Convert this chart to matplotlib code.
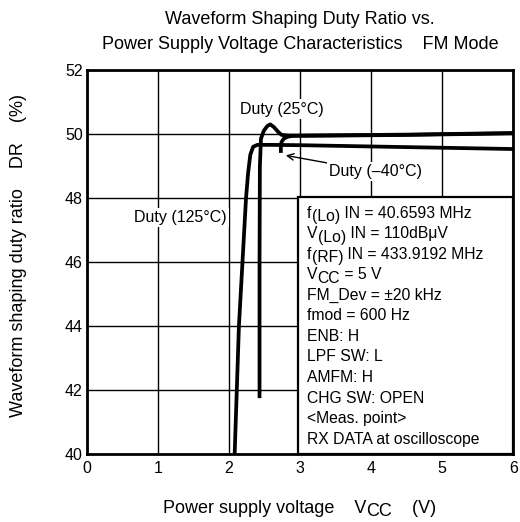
import numpy as np
import matplotlib.pyplot as plt
from matplotlib.patches import Rectangle

plt.rcParams['font.family'] = ['Liberation Sans', 'DejaVu Sans']

# duty ratio curves, V_CC (V) vs DR (%)
vcc_125 = [2.08, 2.14, 2.19, 2.24, 2.27, 2.30, 2.34, 2.40, 2.6, 3.0, 4.0, 5.0, 6.0]
dr_125 = [40.0, 44.0, 46.0, 48.0, 48.8, 49.35, 49.6, 49.66, 49.66, 49.65, 49.61, 49.57, 49.53]

vcc_25 = [2.43, 2.43, 2.435, 2.45, 2.49, 2.54, 2.58, 2.63, 2.69, 2.74, 2.85, 3.5, 4.5, 6.0]
dr_25 = [41.75, 46.0, 49.0, 49.85, 50.1, 50.25, 50.3, 50.22, 50.07, 49.97, 49.95, 49.96, 49.98, 50.03]

vcc_m40 = [2.73, 2.73, 2.74, 2.77, 2.82, 2.89, 3.5, 4.5, 6.0]
dr_m40 = [49.41, 49.62, 49.75, 49.85, 49.91, 49.94, 49.95, 49.97, 50.02]

# (text, is_subscript) pieces for each line of the conditions box
conditions = [
    [('f', False), ('(Lo)', True), (' IN = 40.6593 MHz', False)],
    [('V', False), ('(Lo)', True), (' IN = 110dB\u03bcV', False)],
    [('f', False), ('(RF)', True), (' IN = 433.9192 MHz', False)],
    [('V', False), ('CC', True), (' = 5 V', False)],
    [('FM_Dev = \u00b120 kHz', False)],
    [('fmod = 600 Hz', False)],
    [('ENB: H', False)],
    [('LPF SW: L', False)],
    [('AMFM: H', False)],
    [('CHG SW: OPEN', False)],
    [('<Meas. point>', False)],
    [('RX DATA at oscilloscope', False)],
]


def put_parts(ax, x, y, parts, transform, size, sub_drop=2.5):
    """Writes a line made of pieces, lowering the subscript pieces."""
    first = ax.text(x, y, parts[0][0], transform=transform, fontsize=size,
                    ha='left', va='center', zorder=4)
    prev, prev_dy = first, 0
    for s, sub in parts[1:]:
        dy = -sub_drop if sub else 0
        prev = ax.annotate(s, xy=(1, 0), xycoords=prev, xytext=(0, dy - prev_dy),
                           textcoords='offset points', fontsize=size,
                           ha='left', va='bottom', zorder=4)
        prev_dy = dy
    return first


fig = plt.figure(figsize=(5.2, 5.22), dpi=100)
ax = fig.add_axes([0.167, 0.130, 0.820, 0.736])

ax.set_xlim(0, 6)
ax.set_ylim(40, 52)
ax.set_xticks(range(0, 7))
ax.set_yticks(range(40, 53, 2))
ax.grid(True, color='black', linewidth=1.0)
ax.set_axisbelow(True)
for s in ax.spines.values():
    s.set_linewidth(2.0)
ax.tick_params(length=0, labelsize=11.5)
ax.tick_params(axis='x', pad=5)
ax.tick_params(axis='y', pad=3)

lw = 2.7
ax.plot(vcc_125, dr_125, color='black', lw=lw, solid_capstyle='butt', zorder=3)
ax.plot(vcc_25, dr_25, color='black', lw=lw, solid_capstyle='butt', zorder=3)
ax.plot(vcc_m40, dr_m40, color='black', lw=lw, solid_capstyle='butt', zorder=3)

bg = dict(facecolor='white', edgecolor='none', pad=1.5)
ax.text(2.15, 50.78, 'Duty (25\u00b0C)', fontsize=11.5, va='center', ha='left', bbox=bg, zorder=2)
ax.text(0.67, 47.4, 'Duty (125\u00b0C)', fontsize=11.5, va='center', ha='left', bbox=bg, zorder=2)
ax.annotate('Duty (\u201340\u00b0C)', xy=(2.80, 49.33), xytext=(3.41, 48.82),
            fontsize=11.5, va='center', ha='left', bbox=bg, zorder=2,
            arrowprops=dict(arrowstyle='->', color='black', lw=1.0,
                            shrinkA=0, shrinkB=0))

# measurement conditions box
ax.add_patch(Rectangle((2.97, 40), 3.03, 8.03, facecolor='white',
                       edgecolor='black', linewidth=1.6, zorder=2))
for i, parts in enumerate(conditions):
    put_parts(ax, 3.1, 47.53 - i * 0.642, parts, ax.transData, 11.3)

fig.text(0.577, 0.962, 'Waveform Shaping Duty Ratio vs.', fontsize=13, ha='center', va='center')
fig.text(0.577, 0.915, 'Power Supply Voltage Characteristics    FM Mode',
         fontsize=13, ha='center', va='center')
put_parts(ax, 0.313, 0.026,
          [('Power supply voltage    V', False), ('CC', True), ('    (V)', False)],
          fig.transFigure, 13, sub_drop=2.5)
fig.text(0.036, 0.51, 'Waveform shaping duty ratio    DR    (%)', fontsize=13,
         ha='center', va='center', rotation=90)

fig.savefig('out.png', dpi=100)
